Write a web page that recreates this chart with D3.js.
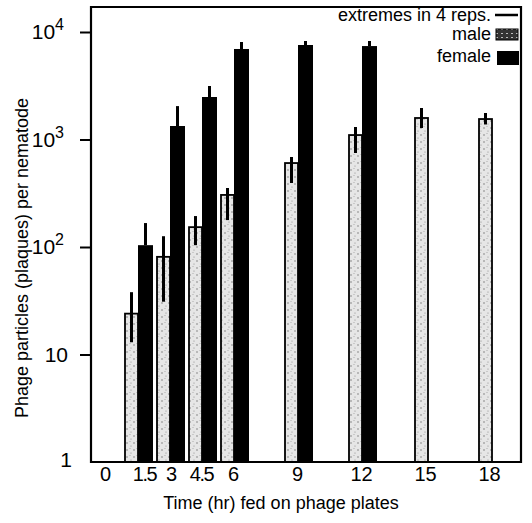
<!DOCTYPE html>
<html>
<head>
<meta charset="utf-8">
<script src="https://cdn.jsdelivr.net/npm/d3@7"></script>
<style>
body { margin: 0; background: #fff; }
svg text { font-family: "Liberation Sans", Arial, sans-serif; fill: #000; }
</style>
</head>
<body>
<div id="chart"></div>
<script>
// hours fed on phage plates
var times = [0, 1.5, 3, 4.5, 6, 9, 12, 15, 18];
var timeLabels = ["0", "1.5", "3", "4.5", "6", "9", "12", "15", "18"];
// plaques per nematode
var male      = [null, 24, 81, 153, 305, 604, 1100, 1585, 1550];
var maleLow   = [null, 13, 31, 104, 178, 394, 749, 1280, 1380];
var maleHigh  = [null, 38, 126, 194, 354, 687, 1307, 1963, 1765];
var female     = [null, 104, 1335, 2485, 6950, 7570, 7400, null, null];
var femaleHigh = [null, 167, 2045, 3145, 8075, 8245, 8245, null, null];
var yTicks = [1, 10, 100, 1000, 10000];

var width = 532, height = 523;
// (don't call it "top", window.top is read only)
var plotLeft = 91, plotRight = 521, plotTop = 7, plotBottom = 462;

var svg = d3.select("#chart").append("svg")
	.attr("width", width)
	.attr("height", height);

var defs = svg.append("defs");
// stipple for male bars
var pat = defs.append("pattern")
	.attr("id", "stipple")
	.attr("patternUnits", "userSpaceOnUse")
	.attr("width", 7).attr("height", 7);
pat.append("rect").attr("width", 7).attr("height", 7).attr("fill", "#e6e6e6");
pat.append("circle").attr("cx", 1).attr("cy", 2).attr("r", 0.7).attr("fill", "#666");
pat.append("circle").attr("cx", 5).attr("cy", 5).attr("r", 0.6).attr("fill", "#888");
pat.append("circle").attr("cx", 4).attr("cy", 0.5).attr("r", 0.5).attr("fill", "#999");
// darker stipple for legend swatch
var pat2 = defs.append("pattern")
	.attr("id", "stippleDark")
	.attr("patternUnits", "userSpaceOnUse")
	.attr("width", 5).attr("height", 4);
pat2.append("rect").attr("width", 5).attr("height", 4).attr("fill", "#333");
pat2.append("rect").attr("x", 1).attr("y", 1).attr("width", 2).attr("height", 1).attr("fill", "#bbb");

var x = d3.scaleLinear().domain([0, 18]).range([105, 489]);
var y = d3.scaleLog().domain([1, 10000]).range([plotBottom, 32]);

var maleW = 13, femaleW = 15;

function maleX(i) {
	// male bars with no female partner sit nearer the tick
	if (female[i] == null) return x(times[i]) - 10;
	return x(times[i]) - 12;
}
function femaleX(i) { return x(times[i]) + 1; }

var idx = d3.range(times.length);
var mIdx = idx.filter(function (i) { return male[i] != null; });
var fIdx = idx.filter(function (i) { return female[i] != null; });

// female bars
svg.append("g").selectAll("rect")
	.data(fIdx)
	.enter().append("rect")
	.attr("x", function (i) { return femaleX(i); })
	.attr("y", function (i) { return y(female[i]); })
	.attr("width", femaleW)
	.attr("height", function (i) { return plotBottom - y(female[i]); })
	.attr("fill", "#000");

svg.append("g").selectAll("line")
	.data(fIdx)
	.enter().append("line")
	.attr("x1", function (i) { return femaleX(i) + femaleW / 2; })
	.attr("x2", function (i) { return femaleX(i) + femaleW / 2; })
	.attr("y1", function (i) { return y(female[i]); })
	.attr("y2", function (i) { return y(femaleHigh[i]); })
	.attr("stroke", "#000")
	.attr("stroke-width", 3);

// male bars
svg.append("g").selectAll("rect")
	.data(mIdx)
	.enter().append("rect")
	.attr("x", function (i) { return maleX(i); })
	.attr("y", function (i) { return y(male[i]); })
	.attr("width", maleW)
	.attr("height", function (i) { return plotBottom - y(male[i]); })
	.attr("fill", "url(#stipple)")
	.attr("stroke", "#000")
	.attr("stroke-width", 1.8);

svg.append("g").selectAll("line")
	.data(mIdx)
	.enter().append("line")
	.attr("x1", function (i) { return maleX(i) + maleW / 2; })
	.attr("x2", function (i) { return maleX(i) + maleW / 2; })
	.attr("y1", function (i) { return y(maleLow[i]); })
	.attr("y2", function (i) { return y(maleHigh[i]); })
	.attr("stroke", "#000")
	.attr("stroke-width", 3);

// frame
svg.append("path")
	.attr("d", "M" + plotLeft + "," + plotTop + "H" + plotRight + "V" + plotBottom + "H" + plotLeft + "Z")
	.attr("fill", "none")
	.attr("stroke", "#000")
	.attr("stroke-width", 2.2);

// y axis
var yAxis = svg.append("g")
	.attr("transform", "translate(" + plotLeft + ",0)")
	.call(d3.axisLeft(y).tickValues(yTicks).tickSize(11).tickPadding(8).tickFormat(""));
yAxis.select(".domain").remove();
yAxis.selectAll("line").attr("stroke-width", 2);
yAxis.selectAll(".tick").filter(function (d) { return d == 1; }).select("line").remove();
yAxis.selectAll(".tick text")
	.attr("font-size", 21)
	.each(function (d) {
		var t = d3.select(this);
		var p = Math.round(Math.log10(d));
		if (p < 2) {
			t.text(p == 0 ? "1" : "10");
		} else {
			t.attr("x", -27);
			t.append("tspan").text("10");
			t.append("tspan").attr("dy", "-0.55em").attr("font-size", 16).text(p);
		}
	});
yAxis.selectAll(".tick").filter(function (d) { return d == 1; }).select("text").attr("x", -19).attr("dy", "0.2em");
yAxis.selectAll(".tick").filter(function (d) { return d == 10; }).select("text").attr("x", -23);

// x axis labels
var xAxis = svg.append("g")
	.attr("transform", "translate(0," + plotBottom + ")")
	.call(d3.axisBottom(x).tickValues(times).tickSize(0).tickPadding(5)
		.tickFormat(function (d, i) { return timeLabels[i]; }));
xAxis.select(".domain").remove();
xAxis.selectAll(".tick text")
	.attr("font-size", 20)
	.attr("letter-spacing", function (d) { return (d % 1 != 0) ? -1.5 : 0; })
	.attr("dx", function (d) { return d == 1.5 ? 7 : (d == 3 ? 2 : 0); });

// axis titles
svg.append("text")
	.attr("x", 281)
	.attr("y", 509)
	.attr("text-anchor", "middle")
	.attr("font-size", 18)
	.text("Time (hr) fed on phage plates");

svg.append("text")
	.attr("transform", "translate(28,258) rotate(-90)")
	.attr("text-anchor", "middle")
	.attr("font-size", 18)
	.text("Phage particles (plaques) per nematode");

// legend
var lg = svg.append("g");
lg.append("text").attr("x", 491).attr("y", 21).attr("text-anchor", "end")
	.attr("font-size", 18).text("extremes in 4 reps.");
lg.append("line").attr("x1", 495).attr("x2", 518).attr("y1", 15).attr("y2", 15)
	.attr("stroke", "#000").attr("stroke-width", 2.5);
lg.append("text").attr("x", 491).attr("y", 40).attr("text-anchor", "end")
	.attr("font-size", 18).text("male");
lg.append("rect").attr("x", 496).attr("y", 29).attr("width", 22).attr("height", 11)
	.attr("fill", "url(#stippleDark)").attr("stroke", "#000");
lg.append("text").attr("x", 491).attr("y", 62).attr("text-anchor", "end")
	.attr("font-size", 18).text("female");
lg.append("rect").attr("x", 497).attr("y", 51).attr("width", 22).attr("height", 14)
	.attr("fill", "#000");
</script>
</body>
</html>
